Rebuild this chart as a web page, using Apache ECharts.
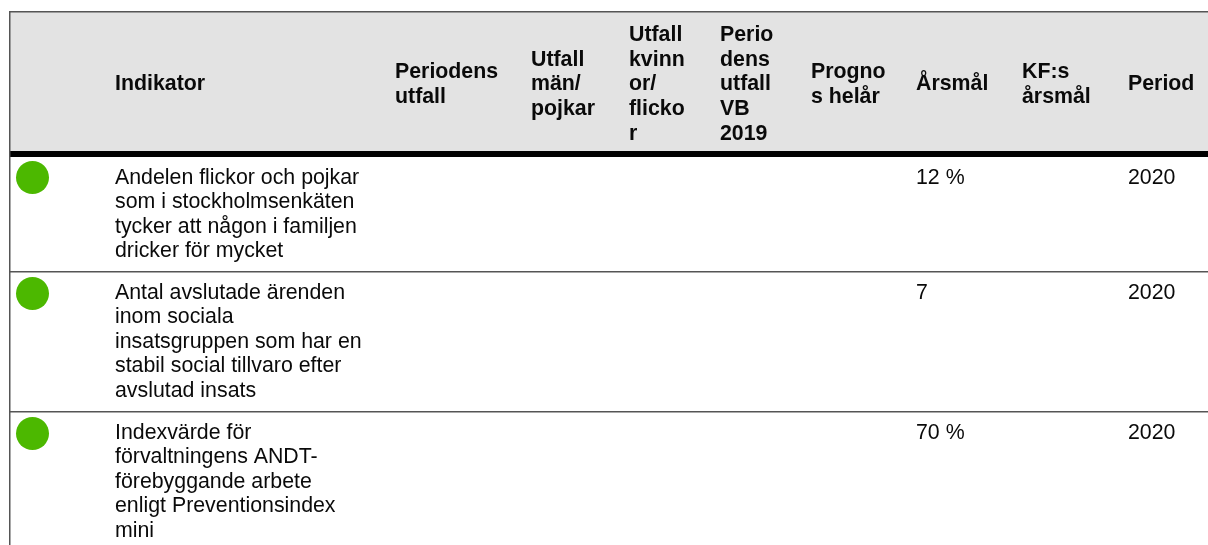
<!DOCTYPE html>
<html><head><meta charset="utf-8">
<style>html,body{margin:0;padding:0;background:#fff}#c{width:1208px;height:545px}</style>
<script src="https://cdn.jsdelivr.net/npm/echarts@6/dist/echarts.min.js"></script>
</head><body><div id="c"></div>
<script>
const headers = ["Indikator","Periodens\nutfall","Utfall\nmän/\npojkar","Utfall\nkvinn\nor/\nflicko\nr","Perio\ndens\nutfall\nVB\n2019","Progno\ns helår","Årsmål","KF:s\nårsmål","Period"];
const indicators = [
 "Andelen flickor och pojkar\nsom i stockholmsenkäten\ntycker att någon i familjen\ndricker för mycket",
 "Antal avslutade ärenden\ninom sociala\ninsatsgruppen som har en\nstabil social tillvaro efter\navslutad insats",
 "Indexvärde för\nförvaltningens ANDT-\nförebyggande arbete\nenligt Preventionsindex\nmini"
];
const yearGoals = ["12 %","7","70 %"];
const periods = ["2020","2020","2020"];

const colX = [115,395,531,629,720,811,916,1022,1128];
const rowTop = [157,272,412];
const rowLine = [271,411];
const dotY = [177.5,293.5,433.5];
const FS = 21.33, LH = 24.6, INK = '#0a0a0a', RULE = '#555555';

const g = [];
g.push({type:'rect',shape:{x:10,y:12,width:1198,height:139},style:{fill:'#e3e3e3'},silent:true});
g.push({type:'rect',shape:{x:10,y:151,width:1198,height:6},style:{fill:'#000'},silent:true});
g.push({type:'rect',shape:{x:9,y:11,width:1199,height:1.5},style:{fill:RULE},silent:true});
g.push({type:'rect',shape:{x:9,y:11,width:1.5,height:534},style:{fill:RULE},silent:true});
rowLine.forEach(y=>g.push({type:'rect',shape:{x:10,y:y,width:1198,height:1.5},style:{fill:RULE},silent:true}));
const txt=(s,x,y,bold,va)=>({type:'text',x,y,style:{text:s,fill:INK,fontFamily:'Liberation Sans',fontWeight:bold?'bold':'normal',fontSize:FS,lineHeight:LH,verticalAlign:va,align:'left'},silent:true});
headers.forEach((h,i)=>g.push(txt(h,colX[i],84.5,true,'middle')));
indicators.forEach((t,i)=>{
  const top=rowTop[i]+8.5;
  g.push(txt(t,colX[0],top,false,'top'));
  g.push(txt(yearGoals[i],colX[6],top,false,'top'));
  g.push(txt(periods[i],colX[8],top,false,'top'));
});

const chart = echarts.init(document.getElementById('c'),null,{renderer:'canvas'});
chart.setOption({
  animation:false,
  grid:{left:0,right:0,top:0,bottom:0},
  xAxis:{type:'value',min:0,max:1208,show:false},
  yAxis:{type:'value',min:0,max:545,inverse:true,show:false},
  graphic:g,
  series:[{type:'scatter',symbol:'circle',symbolSize:33,silent:true,z:5,
    itemStyle:{color:'#4cb800',opacity:1},
    data:dotY.map(y=>[32.5,y])}]
});
</script></body></html>
